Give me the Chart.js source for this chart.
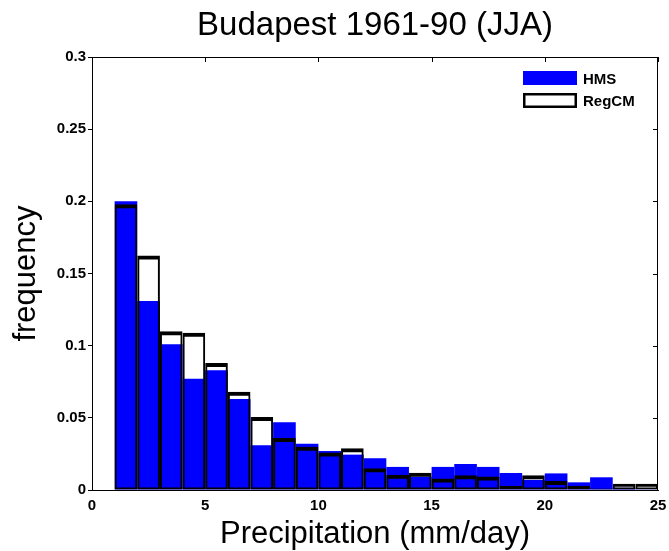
<!DOCTYPE html>
<html>
<head>
<meta charset="utf-8">
<script src="https://cdn.jsdelivr.net/npm/chart.js@4"></script>
<style>
  html, body { margin: 0; padding: 0; background: #fff; }
  #wrap { width: 669px; height: 551px; }
</style>
</head>
<body>
<div id="wrap"><canvas id="chart" width="669" height="551"></canvas></div>
<script>
// histogram bins: left edges of 1 mm/day wide bins
const binStarts = [1, 2, 3, 4, 5, 6, 7, 8, 9, 10, 11, 12, 13, 14, 15, 16, 17, 18, 19, 20, 21, 22, 23, 24]

// observed (HMS) frequencies
const hmsFreq = [0.200, 0.131, 0.101, 0.077, 0.083, 0.063, 0.031, 0.047, 0.032, 0.027, 0.0245, 0.022,
  0.016, 0.0092, 0.016, 0.018, 0.016, 0.0118, 0.007, 0.0115, 0.0053, 0.0088, 0.0015, 0.0005]

// model (RegCM) frequencies
const regcmFreq = [0.198, 0.1625, 0.110, 0.109, 0.088, 0.068, 0.0505, 0.036, 0.030, 0.026, 0.029, 0.0150,
  0.0105, 0.012, 0.008, 0.0103, 0.0093, 0.0028, 0.0102, 0.0063, 0.0028, 0.0010, 0.0043, 0.0043]

const xTicks = [0, 5, 10, 15, 20, 25]
const yTicks = [0, 0.05, 0.1, 0.15, 0.2, 0.25, 0.3]
const yTickLabels = ["0", "0.05", "0.1", "0.15", "0.2", "0.25", "0.3"]

const FONT = "'Liberation Sans', Arial, Helvetica, sans-serif"

const toPoints = (values) => values.map((v, i) => ({ x: binStarts[i] + 0.5, y: v }))

// box round the axes, inward ticks on top and right, legend in the corner
const framePlugin = {
  id: "frame",
  afterDraw(chart) {
    const { ctx, chartArea: a, scales } = chart
    ctx.save()
    ctx.strokeStyle = "#000"
    ctx.lineWidth = 1
    ctx.beginPath()
    ctx.rect(a.left + 0.5, a.top + 0.5, a.right - a.left - 1, a.bottom - a.top)
    ctx.stroke()

    ctx.beginPath()
    xTicks.forEach((t) => {
      const px = Math.round(scales.x.getPixelForValue(t)) + 0.5
      ctx.moveTo(px, a.top)
      ctx.lineTo(px, a.top + 5)
    })
    yTicks.forEach((t) => {
      const py = Math.round(scales.y.getPixelForValue(t)) + 0.5
      ctx.moveTo(a.right, py)
      ctx.lineTo(a.right - 5, py)
    })
    ctx.stroke()

    // legend
    const lx = a.right - 135
    const ly = a.top + 14
    ctx.fillStyle = "#0000ff"
    ctx.fillRect(lx, ly, 54, 14)
    ctx.lineWidth = 2.5
    ctx.strokeStyle = "#000"
    ctx.strokeRect(lx + 1.25, ly + 23.25, 51.5, 12.5)
    ctx.fillStyle = "#000"
    ctx.font = "bold 15px " + FONT
    ctx.textBaseline = "alphabetic"
    ctx.textAlign = "left"
    ctx.fillText("HMS", lx + 60, ly + 12.5)
    ctx.fillText("RegCM", lx + 60, ly + 34.5)
    ctx.restore()
  },
}

new Chart(document.getElementById("chart"), {
  type: "bar",
  data: {
    datasets: [
      {
        label: "HMS",
        data: toPoints(hmsFreq),
        backgroundColor: "#0000ff",
        borderWidth: 0,
        order: 2,
      },
      {
        label: "RegCM",
        data: toPoints(regcmFreq),
        backgroundColor: "rgba(0,0,0,0)",
        borderColor: "#000",
        borderWidth: { top: 4, left: 2, right: 2, bottom: 2 },
        borderSkipped: false,
        order: 1,
      },
    ],
  },
  options: {
    responsive: false,
    animation: false,
    layout: { padding: { left: 0, right: 11, top: 0, bottom: 0 } },
    datasets: {
      bar: {
        grouped: false,
        barPercentage: 1,
        categoryPercentage: 1,
        inflateAmount: 0,
      },
    },
    plugins: {
      legend: { display: false },
      tooltip: { enabled: false },
      title: {
        display: true,
        text: "Budapest 1961-90 (JJA)",
        fullSize: false,
        color: "#000",
        font: { family: FONT, size: 33, weight: "normal", lineHeight: 1 },
        padding: { top: 9, bottom: 15 },
      },
    },
    scales: {
      x: {
        type: "linear",
        min: 0,
        max: 25,
        offset: false,
        afterBuildTicks: (scale) => {
          scale.ticks = xTicks.map((v) => ({ value: v }))
        },
        afterFit: (scale) => {
          scale.height = 61
        },
        grid: {
          display: true,
          drawOnChartArea: false,
          drawTicks: true,
          tickLength: 7,
          offset: false,
          color: "rgba(0,0,0,0)",
        },
        border: { display: true, color: "#000", width: 1 },
        ticks: {
          color: "#000",
          padding: 0,
          font: { family: FONT, size: 15, weight: "bold" },
          callback: (v) => String(v),
        },
        title: {
          display: true,
          text: "Precipitation (mm/day)",
          color: "#000",
          font: { family: FONT, size: 31, weight: "normal", lineHeight: 1 },
          padding: { top: 0, bottom: 1 },
        },
      },
      y: {
        type: "linear",
        min: 0,
        max: 0.3,
        afterBuildTicks: (scale) => {
          scale.ticks = yTicks.map((v) => ({ value: v }))
        },
        afterFit: (scale) => {
          scale.width = 92
        },
        grid: { drawOnChartArea: false, drawTicks: true, tickLength: 4, color: "#000" },
        border: { display: true, color: "#000", width: 1 },
        ticks: {
          color: "#000",
          padding: 2,
          font: { family: FONT, size: 15, weight: "bold" },
          callback: (v) => yTickLabels[yTicks.indexOf(v)],
        },
        title: {
          display: true,
          text: "frequency",
          color: "#000",
          font: { family: FONT, size: 31, weight: "normal", lineHeight: 1 },
          padding: { top: 11, bottom: 0 },
        },
      },
    },
  },
  plugins: [framePlugin],
})
</script>
</body>
</html>
